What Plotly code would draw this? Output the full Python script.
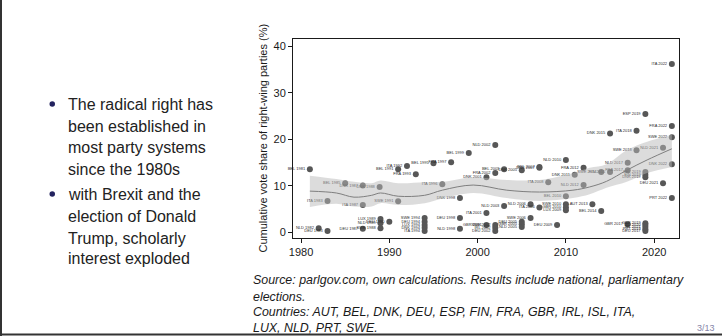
import plotly.graph_objects as go

# ---- data: elections (year, cumulative vote share, label) ----
years = [1981.0, 1982.0, 1983.0, 1983.0, 1985.0, 1987.0, 1987.0, 1987.0, 1988.9, 1989.0,
         1989.0, 1989.0, 1990.0, 1991.0, 1991.0, 1992.0, 1993.0, 1994.0, 1994.0, 1994.0,
         1994.0, 1994.0, 1995.0, 1996.0, 1997.0, 1998.0, 1998.0, 1998.0, 1999.0, 2001.0,
         2001.0, 2001.0, 2002.0, 2002.0, 2002.0, 2002.0, 2002.0, 2003.0, 2003.0, 2005.0,
         2005.0, 2005.0, 2005.0, 2006.0, 2006.0, 2007.0, 2007.0, 2007.0, 2008.0, 2009.0,
         2010.0, 2010.0, 2010.0, 2010.0, 2010.0, 2011.0, 2012.0, 2012.0, 2013.0, 2014.0,
         2014.0, 2015.0, 2015.0, 2017.0, 2017.0, 2017.0, 2018.0, 2018.0, 2019.0, 2019.0,
         2019.0, 2019.0, 2019.0, 2019.0, 2019.0, 2019.0, 2019.0, 2021.0, 2021.0, 2022.0,
         2022.0, 2022.0, 2022.0, 2022.0]
shares = [13.6, 0.9, 6.8, 0.3, 10.6, 10.1, 5.9, 0.8, 9.8, 2.9,
          2.0, 0.9, 2.3, 13.6, 6.7, 14.3, 12.5, 3.1, 2.3, 1.6,
          1.0, 0.3, 14.9, 10.4, 15.1, 7.4, 3.1, 0.8, 17.1, 11.9,
          4.2, 1.6, 18.8, 12.8, 1.6, 1.0, 0.3, 13.6, 5.7, 13.4,
          2.3, 1.8, 1.2, 6.1, 3.1, 14.1, 13.9, 5.4, 10.8, 1.6,
          15.6, 7.8, 6.1, 5.4, 4.8, 12.4, 13.9, 10.2, 6.1, 13.0,
          4.6, 21.3, 13.0, 15.0, 13.4, 1.8, 21.9, 17.7, 25.5, 13.0,
          12.4, 11.9, 2.0, 1.6, 1.2, 0.7, 0.3, 18.2, 10.6, 36.2,
          22.9, 20.5, 14.7, 7.4]
labels = ["BEL 1981", "NLD 1982", "ITA 1983", "DEU 1983", "BEL 1985", "DNK 1987", "ITA 1987", "DEU 1987", "DNK 1988", "LUX 1989",
          "NLD 1989", "SWE 1988", "DEU 1990", "BEL 1991", "SWE 1991", "ITA 1992", "FRA 1993", "SWE 1994", "DEU 1994", "LUX 1994",
          "DNK 1994", "ITA 1994", "BEL 1995", "ITA 1996", "FRA 1997", "DNK 1998", "DEU 1998", "NLD 1998", "BEL 1999", "DNK 2001",
          "ITA 2001", "GBR 2001", "NLD 2002", "FRA 2002", "SWE 2002", "IRL 2002", "DEU 2002", "BEL 2003", "NLD 2003", "DNK 2005",
          "DEU 2005", "GBR 2005", "NLD 2005", "NLD 2006", "SWE 2006", "BEL 2007", "DNK 2007", "ITA 2006", "ITA 2008", "DEU 2009",
          "NLD 2010", "BEL 2010", "SWE 2010", "GBR 2010", "LUX 2009", "DNK 2011", "FRA 2012", "NLD 2012", "AUT 2013", "SWE 2014",
          "BEL 2014", "DNK 2015", "FIN 2015", "NLD 2017", "FRA 2017", "GBR 2017", "ITA 2018", "SWE 2018", "ESP 2019", "BEL 2019",
          "FIN 2019", "DNK 2019", "GBR 2019", "IRL 2020", "ISL 2021", "PRT 2019", "DEU 2017", "NLD 2021", "DEU 2021", "ITA 2022",
          "FRA 2022", "SWE 2022", "DNK 2022", "PRT 2022"]

# ---- data: smoothed trend with confidence band ----
trend_year = [1981, 1984, 1986, 1988, 1989, 1991, 1994, 1996, 1999.5, 2003.3, 2007, 2010.8, 2012.7, 2014.6, 2016.9, 2019.2, 2022]
trend_mean = [8.9, 8.5, 7.6, 8.0, 8.5, 7.8, 8.0, 9.1, 10.2, 9.1, 8.7, 9.1, 9.8, 11.0, 13.4, 15.6, 18.0]
trend_lo = [5.5, 6.2, 5.6, 5.6, 6.3, 5.9, 6.3, 7.3, 8.5, 7.4, 6.8, 7.4, 8.2, 9.6, 10.9, 12.8, 14.1]
trend_hi = [12.2, 11.5, 10.9, 10.6, 11.2, 10.6, 10.8, 10.9, 11.9, 11.3, 11.3, 12.8, 13.9, 14.7, 17.7, 19.5, 21.0]

x_ticks = [1980, 1990, 2000, 2010, 2020]
y_ticks = [0, 10, 20, 30, 40]

bullets = [["The radical right has", "been established in", "most party systems", "since the 1980s"],
           ["with Brexit and the", "election of Donald", "Trump, scholarly", "interest exploded"]]
caption = ["Source: parlgov.com, own calculations. Results include national, parliamentary",
           "elections.",
           "Countries: AUT, BEL, DNK, DEU, ESP, FIN, FRA, GBR, IRL, ISL, ITA,",
           "LUX, NLD, PRT, SWE."]
y_title = "Cumulative vote share of right-wing parties (%)"
page = "3/13"

# ---- layout geometry (pixels) ----
W, H = 722, 336
PL, PR, PT, PB = 293, 679, 39, 238


def px(x):
    return (x - PL) / (PR - PL)


def py(y):
    return (PB - y) / (PB - PT)


fig = go.Figure()

fig.add_trace(go.Scatter(
    x=years, y=shares, mode="markers+text", text=labels,
    textposition="middle left", cliponaxis=False,
    textfont=dict(family="Liberation Sans", size=4, color="#2a2a2a"),
    marker=dict(size=6, color="#575757"), hoverinfo="skip", showlegend=False))

fig.add_trace(go.Scatter(x=trend_year, y=trend_lo, mode="lines", line=dict(width=0),
                         line_shape="spline", showlegend=False, hoverinfo="skip"))
fig.add_trace(go.Scatter(x=trend_year, y=trend_hi, mode="lines", line=dict(width=0),
                         line_shape="spline", fill="tonexty", fillcolor="rgba(185,185,185,0.5)",
                         showlegend=False, hoverinfo="skip"))
fig.add_trace(go.Scatter(x=trend_year, y=trend_mean, mode="lines", line_shape="spline",
                         line=dict(color="#7f7f7f", width=1), showlegend=False, hoverinfo="skip"))

axis_common = dict(showline=True, mirror=True, linecolor="#1a1a1a", linewidth=1,
                   ticks="outside", ticklen=4, tickcolor="#1a1a1a", showgrid=False,
                   zeroline=False, tickfont=dict(family="Liberation Sans", size=11, color="#1a1a1a"))

fig.update_layout(
    width=W, height=H, margin=dict(l=PL, r=W - PR, t=PT, b=H - PB),
    paper_bgcolor="white", plot_bgcolor="white",
    xaxis=dict(range=[1979.09, 2022.81], tickvals=x_ticks, **axis_common),
    yaxis=dict(range=[-1.18, 41.6], tickvals=y_ticks, **axis_common),
)

ann = []
ann.append(dict(x=px(262), y=py((PT + PB) / 2), xref="paper", yref="paper", text=y_title,
                textangle=-90, showarrow=False, xanchor="center", yanchor="middle",
                font=dict(family="Liberation Sans", size=11, color="#1a1a1a")))

line_y = [[104, 126, 147, 169], [194, 216, 238, 258]]
for bi, blines in enumerate(bullets):
    for li, t in enumerate(blines):
        ann.append(dict(x=px(66), y=py(line_y[bi][li]), xref="paper", yref="paper", text=t,
                        xanchor="left", yanchor="middle", showarrow=False,
                        font=dict(family="Liberation Sans", size=16, color="#222222")))

cap_y = [280, 297, 312, 328]
for t, yy in zip(caption, cap_y):
    ann.append(dict(x=px(251), y=py(yy), xref="paper", yref="paper", text="<i>" + t + "</i>",
                    xanchor="left", yanchor="middle", showarrow=False,
                    font=dict(family="Liberation Sans", size=12.4, color="#1a1a1a")))

ann.append(dict(x=px(717), y=py(328), xref="paper", yref="paper", text=page,
                xanchor="right", yanchor="middle", showarrow=False,
                font=dict(family="Liberation Sans", size=9, color="#8585a8")))
fig.update_layout(annotations=ann)

shapes = []
for by in [line_y[0][0], line_y[1][0]]:
    shapes.append(dict(type="circle", xref="paper", yref="paper",
                       x0=px(49.5), x1=px(55), y0=py(by - 2.7), y1=py(by + 2.7),
                       fillcolor="#23235f", line=dict(width=0)))
shapes.append(dict(type="line", xref="paper", yref="paper", x0=px(1), x1=px(1), y0=py(0), y1=py(336),
                   line=dict(color="#333333", width=2)))
shapes.append(dict(type="line", xref="paper", yref="paper", x0=px(0), x1=px(722), y0=py(334.5), y1=py(334.5),
                   line=dict(color="#333333", width=2)))
fig.update_layout(shapes=shapes)

fig.write_html("out.html")
